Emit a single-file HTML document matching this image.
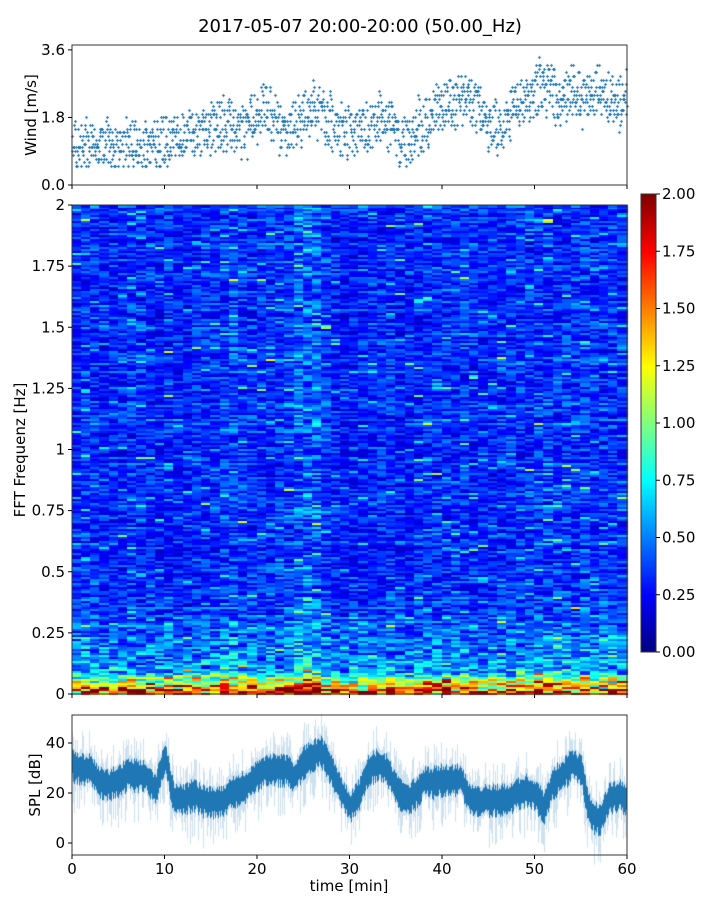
<!DOCTYPE html>
<html><head><meta charset="utf-8">
<style>
html,body{margin:0;padding:0;background:#fff;width:720px;height:900px;overflow:hidden}
#wrap{position:relative;width:720px;height:900px}
canvas,svg{position:absolute;left:0;top:0}
text{font-family:"DejaVu Sans","Liberation Sans",sans-serif;fill:#000}
</style></head><body>
<div id="wrap">
<canvas id="cv" width="720" height="900"></canvas>
<svg id="sv" width="720" height="900"></svg>
</div>
<script>
// ---- data ----
const timeTicks=[0,10,20,30,40,50,60];
const windTicks=[0.0,1.8,3.6];
const windTickLabels=["0.0","1.8","3.6"];
const freqTicks=[0,0.25,0.5,0.75,1,1.25,1.5,1.75,2];
const freqTickLabels=["0","0.25","0.5","0.75","1","1.25","1.5","1.75","2"];
const cbarTicks=[0,0.25,0.5,0.75,1,1.25,1.5,1.75,2];
const splTicks=[0,20,40];
// wind mean per minute (m/s)
const windMean=[1.0,1.0,1.2,1.3,1.1,1.0,1.1,1.0,1.1,1.0,1.1,1.3,1.4,1.3,1.5,1.6,1.6,1.7,1.4,1.5,1.8,2.0,1.6,1.5,1.6,1.8,2.1,1.9,1.6,1.4,1.5,1.6,1.5,1.7,1.8,1.2,1.0,1.5,1.6,1.9,2.2,2.1,2.4,2.2,2.0,1.7,1.5,1.8,2.0,2.2,2.5,2.7,2.4,2.3,2.6,2.2,2.5,2.6,2.3,2.2,2.4];
// SPL mean per minute (dB)
const splMean=[32,30,30,25,24,26,28,28,27,22,36,18,18,20,18,17,17,20,22,24,28,30,30,30,27,33,36,37,30,22,15,20,30,32,30,22,18,20,25,25,26,26,26,18,17,18,18,18,20,22,20,15,25,28,32,30,12,10,18,20,18];
// spectrogram column intensity (per minute)
const colGain=[1.0,1.1,1.0,0.95,0.95,1.0,1.05,1.0,0.95,0.9,1.0,0.9,0.95,1.0,1.0,1.0,1.1,1.15,1.05,1.0,1.0,1.0,1.05,1.1,1.3,1.35,1.3,1.05,0.95,0.9,0.9,0.95,1.0,1.0,1.0,0.9,0.9,1.0,1.0,1.0,1.0,1.0,1.05,1.0,0.95,0.95,1.0,1.0,1.05,1.0,1.1,1.1,1.05,1.05,1.05,1.1,1.0,1.05,1.0,1.0];
// ---- geometry ----
const X0=72,X1=627;
const xs=t=>X0+(t/60)*(X1-X0);
const W={y0:185,y1:45,min:0,max:3.73};
const wy=v=>W.y0-(v-W.min)/(W.max-W.min)*(W.y0-W.y1);
const S={y0:694,y1:205};
const sy=f=>S.y0-f/2*(S.y0-S.y1);
const P={y0:855,y1:715};
const py=v=>843-v*2.5;
const C={x:641,w:15,y0:652,y1:194};
const cy=v=>C.y0-v/2*(C.y0-C.y1);
function hash(a,b){let h=(a*374761393+b*668265263)|0;h=(h^(h>>>13))*1274126177|0;h=h^(h>>>16);return ((h>>>0)%100000)/100000;}
function jet(v){v=Math.max(0,Math.min(1,v));
 const r=Math.max(0,Math.min(1,1.5-Math.abs(4*v-3)));
 const g=Math.max(0,Math.min(1,1.5-Math.abs(4*v-2)));
 const b=Math.max(0,Math.min(1,1.5-Math.abs(4*v-1)));
 return `rgb(${r*255|0},${g*255|0},${b*255|0})`;}
const ctx=document.getElementById('cv').getContext('2d');
ctx.fillStyle='#fff';ctx.fillRect(0,0,720,900);
// spectrogram
const nCols=colGain.length,nRows=245;
for(let i=0;i<nCols;i++){
 const xa=xs(i),xb=xs(i+1);
 for(let j=0;j<nRows;j++){
  const f=j/nRows*2;
  const n=hash(i,j),n2=hash(j,i+99),rn=hash(j,5),rn2=hash(Math.floor(i/4),j+7);
  let v=0.12+0.34*Math.pow(n,1.2)+0.2*rn*rn2;
  if(n2>0.9)v+=0.25*n;
  if(n2>0.985)v+=0.35;
  if(f<0.4)v+=0.35*(0.4-f)/0.4*(0.4+n);
  if(f<0.09)v+=1.5*(0.09-f)/0.09*(0.3+n2);
  v*=colGain[i];
  ctx.fillStyle=jet(v/2);
  const ya=sy(f),yb=sy(f+2/nRows);
  ctx.fillRect(Math.floor(xa),Math.floor(yb),Math.ceil(xb-xa)+1,Math.ceil(ya-yb)+1);
 }
}
// colorbar
for(let y=C.y1;y<C.y0;y++){ctx.fillStyle=jet((C.y0-y)/(C.y0-C.y1));ctx.fillRect(C.x,y,C.w,1);}
// SPL band
function interp(arr,t){const i=Math.min(arr.length-2,Math.floor(t));const fr=t-i;return arr[i]*(1-fr)+arr[i+1]*fr;}
for(let px=X0;px<X1;px++){
 const t=(px-X0)/(X1-X0)*60;
 const m=interp(splMean,t);
 const a=hash(px,7),b=hash(px,13);
 ctx.fillStyle='rgba(31,119,180,0.22)';
 ctx.fillRect(px,py(m+5+10*a*a),1,py(m-6-14*b*b)-py(m+5+10*a*a));
 ctx.fillStyle='rgb(31,119,180)';
 ctx.fillRect(px,py(m+3+3*a),1,py(m-4-4*b)-py(m+3+3*a));
}
// wind scatter
ctx.strokeStyle='#1f77b4';ctx.lineWidth=1;
for(let k=0;k<1500;k++){
 const t=k/1500*60;
 const m=interp(windMean,t);
 let v=m+(hash(k,3)-0.5)*1.2+(hash(k,5)-0.5)*0.5;
 v=Math.max(0.5,Math.round(v*10)/10);
 const x=Math.round(xs(t))+0.5,y=Math.round(wy(v))+0.5;
 ctx.beginPath();ctx.moveTo(x-1.5,y);ctx.lineTo(x+1.5,y);ctx.moveTo(x,y-1.5);ctx.lineTo(x,y+1.5);ctx.stroke();
}
// ---- SVG axes ----
const sv=document.getElementById('sv');const NS='http://www.w3.org/2000/svg';
function el(tag,attrs,txt){const e=document.createElementNS(NS,tag);for(const k in attrs)e.setAttribute(k,attrs[k]);if(txt!==undefined)e.textContent=txt;sv.appendChild(e);return e;}
let e;
e=el('text',{x:360,y:32,'text-anchor':'middle','font-size':18},'2017-05-07 20:00-20:00 (50.00_Hz)');


function frame(y1,y0,name){e=el('rect',{x:X0,y:y1,width:X1-X0,height:y0-y1,fill:'none',stroke:'#333','stroke-width':1});
 
 
 timeTicks.forEach(t=>{e=el('line',{x1:xs(t),x2:xs(t),y1:y0,y2:y0+4,stroke:'#000'});
  
  });}
frame(W.y1,W.y0,'wind-panel');frame(S.y1,S.y0,'spectrogram-panel');frame(P.y1,P.y0,'spl-panel');
windTicks.forEach((v,i)=>{el('line',{x1:X0-4,x2:X0,y1:wy(v),y2:wy(v),stroke:'#000'});
 e=el('text',{x:X0-7,y:wy(v)+5,'text-anchor':'end','font-size':15},windTickLabels[i]);
 
 });
e=el('text',{x:0,y:0,transform:`translate(36,115) rotate(-90)`,'text-anchor':'middle','font-size':15},'Wind [m/s]');


freqTicks.forEach((f,i)=>{el('line',{x1:X0-4,x2:X0,y1:sy(f),y2:sy(f),stroke:'#000'});
 e=el('text',{x:X0-7,y:sy(f)+5,'text-anchor':'end','font-size':15},freqTickLabels[i]);
 
 });
e=el('text',{x:0,y:0,transform:`translate(25,450) rotate(-90)`,'text-anchor':'middle','font-size':15},'FFT Frequenz [Hz]');


e=el('rect',{x:C.x,y:C.y1,width:C.w,height:C.y0-C.y1,fill:'none',stroke:'#333'});


cbarTicks.forEach(v=>{el('line',{x1:C.x+C.w,x2:C.x+C.w+4,y1:cy(v),y2:cy(v),stroke:'#000'});
 e=el('text',{x:C.x+C.w+6,y:cy(v)+5,'font-size':15},v.toFixed(2));
 
 });
splTicks.forEach(v=>{el('line',{x1:X0-4,x2:X0,y1:py(v),y2:py(v),stroke:'#000'});
 e=el('text',{x:X0-7,y:py(v)+5,'text-anchor':'end','font-size':15},String(v));
 
 });
e=el('text',{x:0,y:0,transform:`translate(40,785) rotate(-90)`,'text-anchor':'middle','font-size':15},'SPL [dB]');


timeTicks.forEach(t=>{e=el('text',{x:xs(t),y:874,'text-anchor':'middle','font-size':15},String(t));
 
 });
e=el('text',{x:349,y:891,'text-anchor':'middle','font-size':15},'time [min]');


</script>
</body></html>
